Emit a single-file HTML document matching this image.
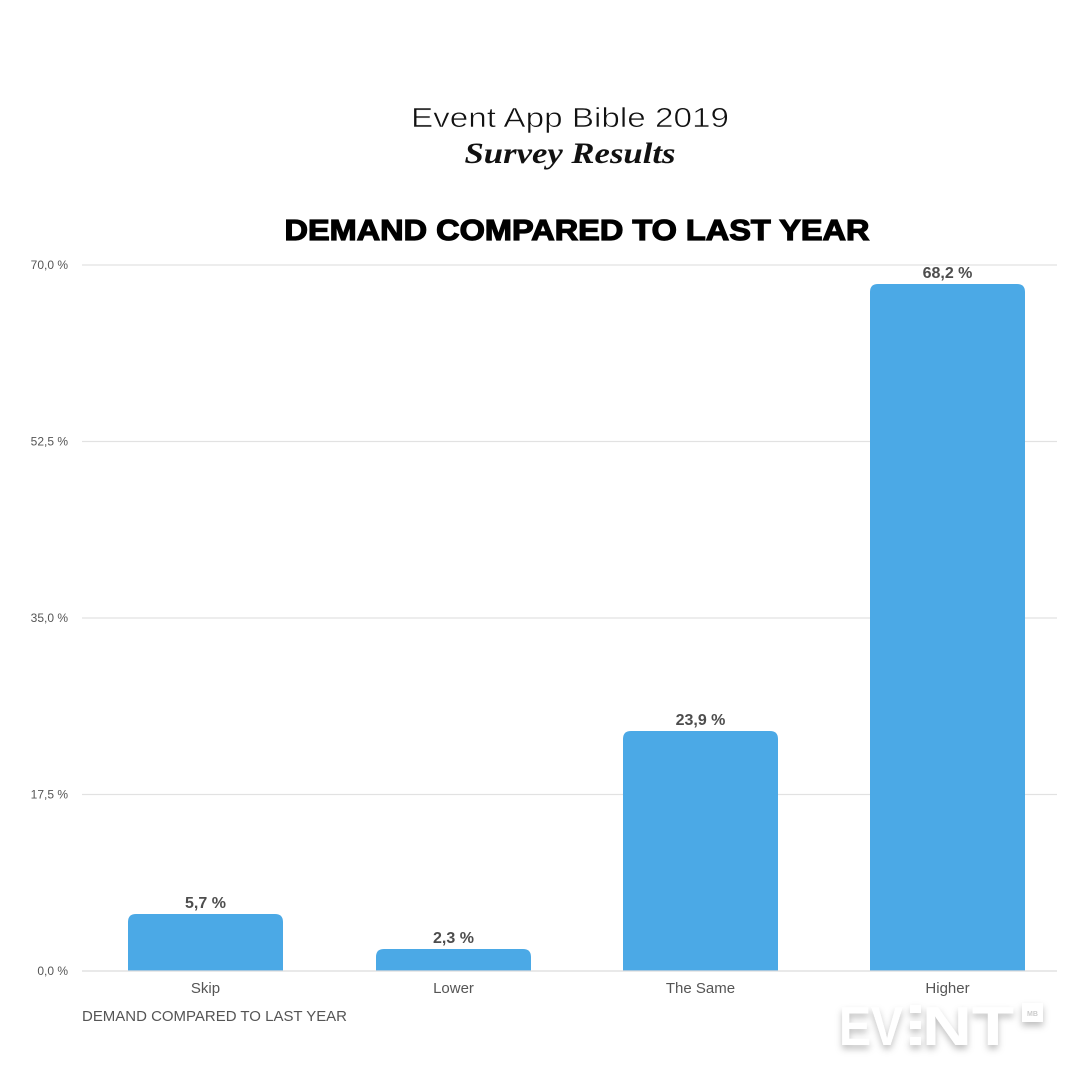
<!DOCTYPE html>
<html><head><meta charset="utf-8"><style>
html,body{margin:0;padding:0;background:#fff;}
svg{display:block;}
</style></head><body>
<svg width="1080" height="1080" viewBox="0 0 1080 1080" xmlns="http://www.w3.org/2000/svg">
<defs>
<filter id="sh" x="-20%" y="-30%" width="140%" height="180%">
<feDropShadow dx="0" dy="4" stdDeviation="3.5" flood-color="#000" flood-opacity="0.25"/>
</filter>
</defs>
<rect width="1080" height="1080" fill="#fff"/>
<text x="570" y="127" font-family="Liberation Sans, sans-serif" font-size="28" fill="#111" stroke="#fff" stroke-width="0.6" text-anchor="middle" textLength="318" lengthAdjust="spacingAndGlyphs">Event App Bible 2019</text>
<text x="570" y="163" font-family="Liberation Serif, serif" font-size="30" font-weight="bold" font-style="italic" fill="#111" text-anchor="middle" textLength="211" lengthAdjust="spacingAndGlyphs">Survey Results</text>
<text x="577" y="240" font-family="Liberation Sans, sans-serif" font-size="29" font-weight="900" fill="#000" text-anchor="middle" textLength="585" lengthAdjust="spacingAndGlyphs" stroke="#000" stroke-width="1.2">DEMAND COMPARED TO LAST YEAR</text>
<g stroke="#e2e2e2" stroke-width="1.2">
<line x1="82" y1="265" x2="1057" y2="265"/>
<line x1="82" y1="441.5" x2="1057" y2="441.5"/>
<line x1="82" y1="618" x2="1057" y2="618"/>
<line x1="82" y1="794.5" x2="1057" y2="794.5"/>
</g>
<g font-family="Liberation Sans, sans-serif" font-size="12" fill="#555" text-anchor="end">
<text x="68" y="269">70,0 %</text>
<text x="68" y="445.5">52,5 %</text>
<text x="68" y="622">35,0 %</text>
<text x="68" y="798.5">17,5 %</text>
<text x="68" y="975">0,0 %</text>
</g>
<g fill="#4ba9e6">
<path d="M128,971 V922 Q128,914 136,914 H275 Q283,914 283,922 V971 Z"/>
<path d="M376,971 V957 Q376,949 384,949 H523 Q531,949 531,957 V971 Z"/>
<path d="M623,971 V739 Q623,731 631,731 H770 Q778,731 778,739 V971 Z"/>
<path d="M870,971 V292 Q870,284 878,284 H1017 Q1025,284 1025,292 V971 Z"/>
</g>
<line x1="82" y1="971" x2="1057" y2="971" stroke="#dcdcdc" stroke-width="1.3"/>
<g font-family="Liberation Sans, sans-serif" font-size="16" font-weight="bold" fill="#4d4d4d" text-anchor="middle">
<text x="205.5" y="908">5,7 %</text>
<text x="453.5" y="943">2,3 %</text>
<text x="700.5" y="725">23,9 %</text>
<text x="947.5" y="278">68,2 %</text>
</g>
<g font-family="Liberation Sans, sans-serif" font-size="15" fill="#555" text-anchor="middle">
<text x="205.5" y="993">Skip</text>
<text x="453.5" y="993">Lower</text>
<text x="700.5" y="993">The Same</text>
<text x="947.5" y="993">Higher</text>
</g>
<text x="82" y="1021" font-family="Liberation Sans, sans-serif" font-size="14.5" fill="#555" textLength="265" lengthAdjust="spacingAndGlyphs">DEMAND COMPARED TO LAST YEAR</text>
<g filter="url(#sh)" fill="#fff">
<text x="839" y="1045" font-family="Liberation Sans, sans-serif" font-size="55" font-weight="bold" textLength="64" lengthAdjust="spacingAndGlyphs">EV</text>
<rect x="910" y="1005" width="11" height="8"/>
<rect x="910" y="1021" width="11" height="8"/>
<rect x="910" y="1037" width="11" height="8"/>
<text x="922" y="1045" font-family="Liberation Sans, sans-serif" font-size="55" font-weight="bold" textLength="92" lengthAdjust="spacingAndGlyphs">NT</text>
<rect x="1022" y="1003" width="21" height="19"/>
</g>
<text x="1032.5" y="1016" font-family="Liberation Sans, sans-serif" font-size="7" font-weight="bold" fill="#ccc" text-anchor="middle">MB</text>
</svg>
</body></html>
